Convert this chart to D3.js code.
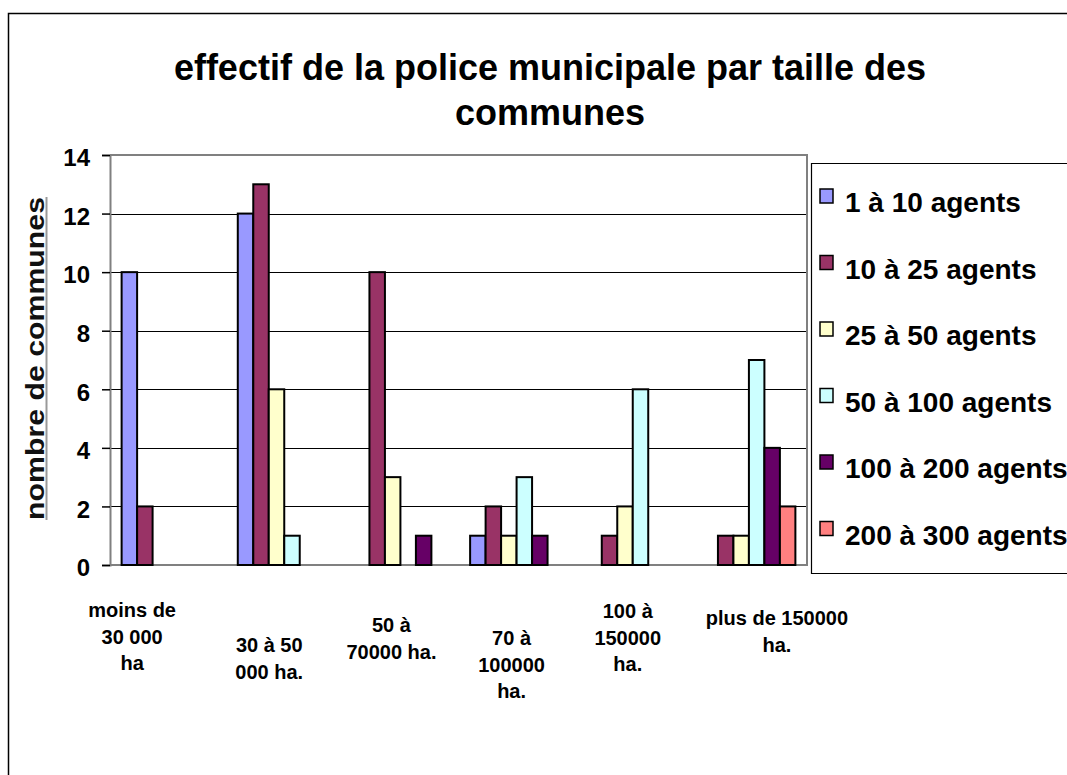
<!DOCTYPE html>
<html>
<head>
<meta charset="utf-8">
<script src="https://cdn.jsdelivr.net/npm/d3@7"></script>
<style>
  html, body { margin: 0; padding: 0; background: #fff; }
  svg { display: block; font-family: Arial, "Liberation Sans", sans-serif; }
</style>
</head>
<body>
<svg id="chart" width="1067" height="775"></svg>
<script>
// ---- data ----
const categories = [
  ["moins de", "30 000", "ha"],
  ["30 à 50", "000 ha."],
  ["50 à", "70000 ha."],
  ["70 à", "100000", "ha."],
  ["100 à", "150000", "ha."],
  ["plus de 150000", "ha."]
];
const seriesNames = ["1 à 10 agents", "10 à 25 agents", "25 à 50 agents", "50 à 100 agents", "100 à 200 agents", "200 à 300 agents"];
const s1 = [10, 12, 0, 1, 0, 0];
const s2 = [2, 13, 10, 2, 1, 1];
const s3 = [0, 6, 3, 1, 2, 1];
const s4 = [0, 1, 0, 3, 6, 7];
const s5 = [0, 0, 1, 1, 0, 4];
const s6 = [0, 0, 0, 0, 0, 2];
const seriesValues = [s1, s2, s3, s4, s5, s6];
const yTicks = [0, 2, 4, 6, 8, 10, 12, 14];
const titleLines = ["effectif de la police municipale par taille des", "communes"];
const yTitle = "nombre de communes";

// ---- style ----
const colors = ["#9999FF", "#993366", "#FFFFCC", "#CCFFFF", "#660066", "#FF8080"];

// ---- layout ----
const plot = { left: 110, right: 807, top: 155, bottom: 565 };
const labelDx = [-36, -15, -9, -5, -5, 28];
const labelY = [617, 652, 632, 645, 618, 625];

const svg = d3.select("#chart");

// outer border
svg.append("path")
  .attr("d", "M8.5,775 L8.5,13.5 L1067,13.5")
  .attr("fill", "none").attr("stroke", "#000").attr("stroke-width", 1.5);

// title
svg.append("text")
  .attr("x", 550).attr("y", 80)
  .attr("text-anchor", "middle")
  .attr("font-size", 36).attr("font-weight", "bold")
  .selectAll("tspan").data(titleLines).join("tspan")
  .attr("x", 550).attr("dy", (d, i) => i === 0 ? 0 : 45)
  .text(d => d);

const catIdx = categories.map((d, i) => i);
const x0 = d3.scaleBand().domain(catIdx).range([plot.left, plot.right]).paddingInner(0).paddingOuter(0);
const x1 = d3.scaleBand().domain(d3.range(seriesNames.length)).range([0, x0.bandwidth()]).paddingInner(0).paddingOuter(0.75);
const y = d3.scaleLinear().domain([0, 14]).range([plot.bottom, plot.top]);

// gridlines
svg.append("g").selectAll("line").data(yTicks.filter(t => t > 0 && t < 14)).join("line")
  .attr("x1", plot.left).attr("x2", plot.right)
  .attr("y1", d => Math.round(y(d)) + 0.5).attr("y2", d => Math.round(y(d)) + 0.5)
  .attr("stroke", "#000").attr("stroke-width", 1);

// plot frame (top, right, bottom)
svg.append("path")
  .attr("d", `M${plot.left},${plot.top} L${plot.right},${plot.top} L${plot.right},${plot.bottom} L${plot.left},${plot.bottom}`)
  .attr("fill", "none").attr("stroke", "#808080").attr("stroke-width", 2);

// bars
const barData = [];
seriesValues.forEach((vals, si) => vals.forEach((v, ci) => { if (v > 0) barData.push({ si, ci, v }); }));
svg.append("g").selectAll("rect").data(barData).join("rect")
  .attr("x", d => x0(d.ci) + x1(d.si))
  .attr("y", d => y(d.v))
  .attr("width", x1.bandwidth())
  .attr("height", d => y(0) - y(d.v))
  .attr("fill", d => colors[d.si])
  .attr("stroke", "#000").attr("stroke-width", 2);

// y axis
const yAxis = d3.axisLeft(y).tickValues(yTicks).tickSize(8).tickPadding(12).tickFormat(d3.format("d"));
const ya = svg.append("g").attr("transform", `translate(${plot.left},0)`).call(yAxis);
ya.select(".domain").attr("stroke", "#808080").attr("stroke-width", 2);
ya.selectAll(".tick line").attr("stroke", "#000").attr("stroke-width", 1.5);
ya.selectAll(".tick text")
  .attr("font-size", 24).attr("font-weight", "bold").attr("fill", "#000")
  .attr("font-family", "Arial, 'Liberation Sans', sans-serif")
  .attr("dy", "0.45em");

// y title
svg.append("text")
  .attr("transform", "translate(44,520) rotate(-90)")
  .attr("font-size", 26).attr("font-weight", "bold").attr("fill", "#111")
  .attr("textLength", 323).attr("lengthAdjust", "spacingAndGlyphs")
  .text(yTitle);
svg.append("line")
  .attr("x1", 46.5).attr("x2", 46.5).attr("y1", 197).attr("y2", 520)
  .attr("stroke", "#999").attr("stroke-width", 2);

// x labels
const xl = svg.append("g").selectAll("text").data(categories).join("text")
  .attr("text-anchor", "middle")
  .attr("font-size", 20).attr("font-weight", "bold")
  .attr("transform", (d, i) => `translate(${x0(i) + x0.bandwidth() / 2 + labelDx[i]},${labelY[i]})`);
xl.selectAll("tspan").data(d => d).join("tspan")
  .attr("x", 0).attr("y", (d, i) => i * 26.5)
  .text(d => d);

// legend
svg.append("path")
  .attr("d", "M1067,163.5 L811.5,163.5 L811.5,573.5 L1067,573.5")
  .attr("fill", "none").attr("stroke", "#000").attr("stroke-width", 1.2);
const lg = svg.append("g").selectAll("g").data(seriesNames).join("g")
  .attr("transform", (d, i) => `translate(820,${212 + i * 66.5})`);
lg.append("rect")
  .attr("x", 0).attr("y", -23).attr("width", 13).attr("height", 14)
  .attr("fill", (d, i) => colors[i]).attr("stroke", "#000").attr("stroke-width", 1.5);
lg.append("text")
  .attr("x", 25).attr("y", 0)
  .attr("font-size", 28).attr("font-weight", "bold")
  .text(d => d);
</script>
</body>
</html>
